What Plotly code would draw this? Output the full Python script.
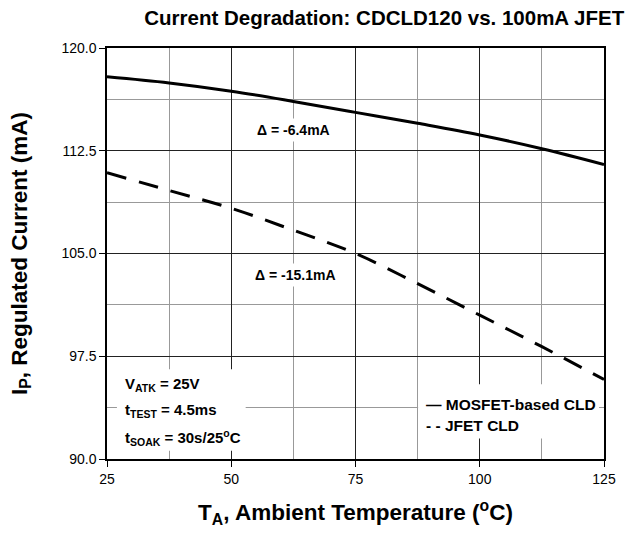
import plotly.graph_objects as go

temps = [25, 37.5, 50, 62.5, 75, 87.5, 100, 112.5, 125]
mosfet = [117.9, 117.45, 116.85, 116.1, 115.3, 114.5, 113.65, 112.65, 111.5]
jfet = [110.9, 109.6, 108.3, 106.7, 105.0, 102.8, 100.5, 98.2, 95.8]

x_ticks = [25, 50, 75, 100, 125]
y_ticks = [90.0, 97.5, 105.0, 112.5, 120.0]

FONT = "Liberation Sans, Arial, sans-serif"

fig = go.Figure()
fig.add_trace(go.Scatter(x=temps, y=mosfet, mode="lines", line=dict(color="black", width=3, shape="spline"),
                         name="MOSFET-based CLD"))
fig.add_trace(go.Scatter(x=temps, y=jfet, mode="lines", line=dict(color="black", width=3, dash="20px,13px", shape="spline"),
                         name="JFET CLD"))

axis_common = dict(showline=True, linecolor="black", linewidth=1.5, mirror=True,
                   ticks="outside", ticklen=6, tickcolor="black",
                   showgrid=True, gridcolor="#222", gridwidth=1, zeroline=False,
                   tickfont=dict(family=FONT, size=14, color="black"))

fig.update_xaxes(range=[25, 125], tickvals=x_ticks, **axis_common,
                 minor=dict(dtick=12.5, tick0=25, showgrid=True, gridcolor="#999", gridwidth=1),
                 title=dict(text="<b>T<sub>A</sub>, Ambient Temperature (<sup>o</sup>C)</b>",
                            font=dict(family=FONT, size=22.5, color="black"), standoff=19))
fig.update_yaxes(range=[90, 120], tickvals=y_ticks, tickformat=".1f", **axis_common,
                 minor=dict(dtick=3.75, tick0=90, showgrid=True, gridcolor="#999", gridwidth=1),
                 title=dict(text="<b>I<sub>P</sub>, Regulated Current (mA)</b>",
                            font=dict(family=FONT, size=22.5, color="black"), standoff=28))

# white boxes covering gridlines
fig.add_shape(type="rect", x0=27.0, x1=52.9, y0=90.6, y1=96.55, fillcolor="white", line_width=0, layer="between")
fig.add_shape(type="rect", x0=87.6, x1=124.0, y0=91.5, y1=95.45, fillcolor="white", line_width=0, layer="between")

delta_font = dict(family=FONT, size=14, color="black")
box_font = dict(family=FONT, size=15, color="black")
leg_font = dict(family=FONT, size=15.5, color="black")

fig.add_annotation(x=62.5, y=114.05, text="<b>Δ = -6.4mA</b>", showarrow=False, font=delta_font,
                   bgcolor="white", borderpad=3)
fig.add_annotation(x=63.0, y=103.45, text="<b>Δ = -15.1mA</b>", showarrow=False, font=delta_font,
                   bgcolor="white", borderpad=3)

for yv, txt in [(95.45, "<b>V<sub>ATK</sub> = 25V</b>"),
                (93.55, "<b>t<sub>TEST</sub> = 4.5ms</b>"),
                (91.6, "<b>t<sub>SOAK</sub> = 30s/25<sup>o</sup>C</b>")]:
    fig.add_annotation(x=28.3, y=yv, text=txt, showarrow=False, font=box_font, xanchor="left")

fig.add_annotation(x=88.7, y=93.95, text="<b>— MOSFET-based CLD</b>", showarrow=False, font=leg_font, xanchor="left")
fig.add_annotation(x=88.7, y=92.45, text="<b>- - JFET CLD</b>", showarrow=False, font=leg_font, xanchor="left")

fig.update_layout(
    width=628, height=533,
    margin=dict(l=107, r=16, t=48, b=73),
    paper_bgcolor="white", plot_bgcolor="white",
    showlegend=False,
    title=dict(text="<b>Current Degradation: CDCLD120 vs. 100mA JFET</b>",
               font=dict(family=FONT, size=20.5, color="black"),
               x=0.994, xanchor="right", xref="container",
               y=0.966, yanchor="middle", yref="container",
               pad=dict(r=0, l=0, t=0, b=0)),
)

fig.write_html("out.html")
